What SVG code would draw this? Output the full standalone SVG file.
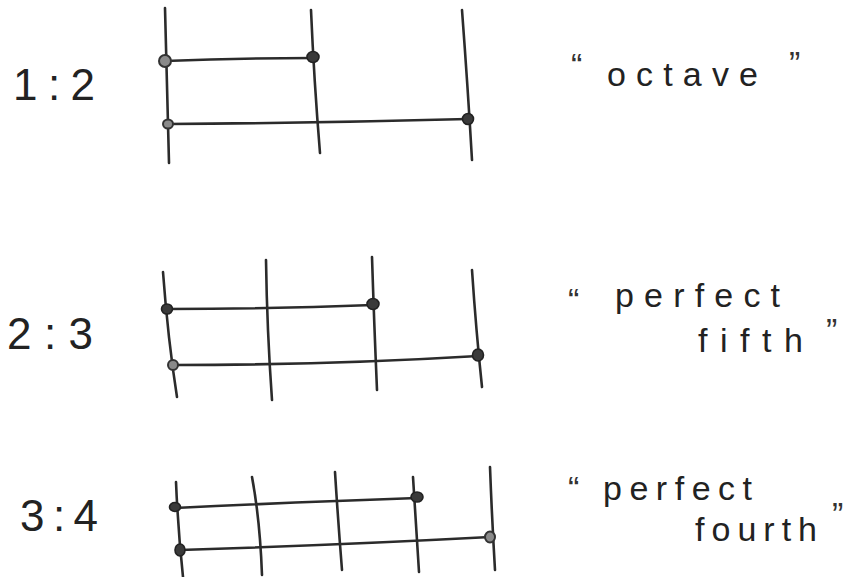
<svg xmlns="http://www.w3.org/2000/svg" width="855" height="577" viewBox="0 0 855 577">
<style>
.bg{fill:#ffffff}
.ln{fill:none;stroke:#2b2b2b;stroke-width:2.6;stroke-linecap:round}
.dot{fill:#3a3a3a;stroke:#222;stroke-width:1.6}
.dotl{fill:#8a8a8a;stroke:#333;stroke-width:2}
.ratio{font-family:"Liberation Sans","DejaVu Sans",sans-serif;font-size:44px;fill:#222}
.name{font-family:"Liberation Sans","DejaVu Sans",sans-serif;font-size:34px;fill:#222}
.q{font-family:"Liberation Sans","DejaVu Sans",sans-serif;font-size:34px;fill:#333}
</style>
<rect class="bg" x="0" y="0" width="855" height="577"/>

<g id="octave">
  <text class="ratio" x="13" y="100" textLength="82" lengthAdjust="spacing">1:2</text>
  <g class="strings">
    <path class="ln" d="M165 8 Q167 90 169 163"/>
    <path class="ln" d="M311 10 Q314 80 320 153"/>
    <path class="ln" d="M462 10 Q468 90 472 160"/>
    <path class="ln" d="M165 61 Q240 58 313 58"/>
    <path class="ln" d="M168 124 Q320 123 468 119"/>
  </g>
  <ellipse class="dotl" cx="165" cy="61" rx="6" ry="6"/>
  <ellipse class="dot" cx="313" cy="57" rx="6" ry="5.5"/>
  <ellipse class="dotl" cx="168" cy="124" rx="5" ry="4.5"/>
  <ellipse class="dot" cx="468" cy="119" rx="5.5" ry="5.5"/>
  <text class="q" x="571" y="77">“</text>
  <text class="name" x="607" y="86" textLength="151" lengthAdjust="spacing">octave</text>
  <text class="q" x="789" y="75">”</text>
</g>

<g id="fifth">
  <text class="ratio" x="7" y="349" textLength="86" lengthAdjust="spacing">2:3</text>
  <path class="ln" d="M163 272 Q168 340 177 397"/>
  <path class="ln" d="M266 260 Q267 330 272 400"/>
  <path class="ln" d="M372 257 Q374 320 377 390"/>
  <path class="ln" d="M472 270 Q476 330 482 387"/>
  <path class="ln" d="M167 309 Q270 309 373 305"/>
  <path class="ln" d="M173 365 Q330 365 478 356"/>
  <ellipse class="dot" cx="167" cy="309" rx="5.5" ry="5"/>
  <ellipse class="dot" cx="373" cy="304" rx="6" ry="5.5"/>
  <ellipse class="dotl" cx="173" cy="365" rx="5" ry="5"/>
  <ellipse class="dot" cx="478" cy="355" rx="5.5" ry="6"/>
  <text class="q" x="568" y="312">“</text>
  <text class="name" x="615" y="307" textLength="165" lengthAdjust="spacing">perfect</text>
  <text class="name" x="698" y="352" textLength="105" lengthAdjust="spacing">fifth</text>
  <text class="q" x="826" y="342">”</text>
</g>

<g id="fourth">
  <text class="ratio" x="20" y="531" textLength="78" lengthAdjust="spacing">3:4</text>
  <path class="ln" d="M176 482 Q178 530 183 577"/>
  <path class="ln" d="M252 477 Q260 520 262 575"/>
  <path class="ln" d="M335 472 Q338 520 342 570"/>
  <path class="ln" d="M413 477 Q416 525 419 572"/>
  <path class="ln" d="M490 467 Q492 520 495 570"/>
  <path class="ln" d="M175 508 Q300 502 417 498"/>
  <path class="ln" d="M180 550 Q340 545 490 537"/>
  <ellipse class="dot" cx="175" cy="507" rx="5.5" ry="4.5"/>
  <ellipse class="dot" cx="417" cy="497" rx="6" ry="5"/>
  <ellipse class="dot" cx="180" cy="550" rx="5" ry="6"/>
  <ellipse class="dotl" cx="490" cy="537" rx="5" ry="5.5"/>
  <text class="q" x="568" y="500">“</text>
  <text class="name" x="603" y="500" textLength="149" lengthAdjust="spacing">perfect</text>
  <text class="name" x="695" y="541" textLength="122" lengthAdjust="spacing">fourth</text>
  <text class="q" x="832" y="526">”</text>
</g>
</svg>
